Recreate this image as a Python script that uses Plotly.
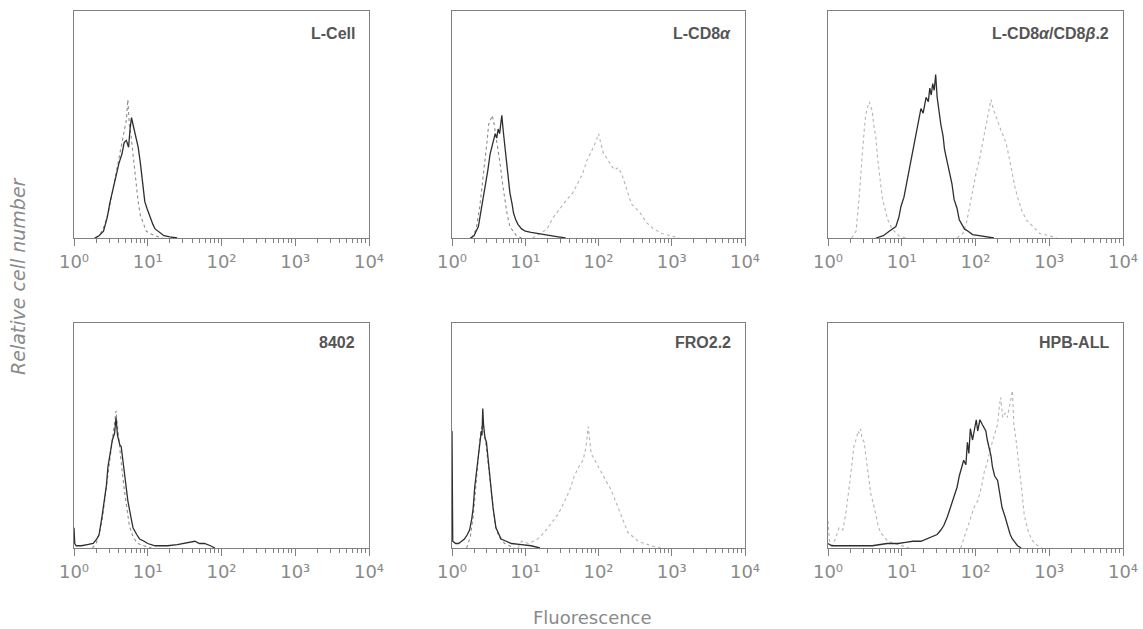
import plotly.graph_objects as go

# ---- Data: log10(fluorescence) positions and relative cell number (% of panel height) ----
panel_titles = ["L-Cell", "L-CD8<i>α</i>", "L-CD8<i>α</i>/CD8<i>β</i>.2", "8402", "FRO2.2", "HPB-ALL"]

# Panel 1: L-Cell
lcell_ctrl_x = [0.30,0.36,0.42,0.47,0.52,0.56,0.60,0.63,0.66,0.69,0.71,0.73,0.75,0.77,0.79,0.81,0.84,0.87,0.90,0.94,0.98,1.03,1.10,1.20]
lcell_ctrl_y = [0,2,6,12,20,27,33,38,44,48,52,61,50,46,40,33,24,16,10,6,3,2,1,0]
lcell_stain_x = [0.28,0.34,0.40,0.45,0.49,0.53,0.58,0.61,0.65,0.68,0.71,0.74,0.76,0.78,0.80,0.83,0.85,0.87,0.90,0.92,0.94,0.96,0.99,1.03,1.07,1.10,1.14,1.17,1.22,1.30,1.40]
lcell_stain_y = [0,1,3,9,16,22,28,33,37,42,43,40,48,53,50,46,42,40,33,28,22,16,13,9,6,4,3,2,1,0.5,0]

# Panel 2: L-CD8a
cd8a_ctrl_x = [0.27,0.33,0.38,0.42,0.45,0.48,0.50,0.53,0.55,0.57,0.59,0.61,0.64,0.66,0.69,0.72,0.75,0.79,0.83,0.88,0.95]
cd8a_ctrl_y = [0,4,14,25,35,43,50,52,54,51,47,43,37,32,24,17,11,5,3,1,0]
cd8a_neg_x = [0.25,0.30,0.36,0.41,0.45,0.49,0.52,0.56,0.59,0.61,0.63,0.65,0.67,0.68,0.70,0.71,0.73,0.75,0.77,0.79,0.82,0.84,0.87,0.90,0.95,1.0,1.08,1.16,1.25,1.35,1.45,1.55]
cd8a_neg_y = [0,1,5,14,23,30,37,42,46,44,48,46,52,54,47,43,38,32,26,20,15,11,8,6,4,3,2.5,2,1.5,1,0.5,0]
cd8a_pos_x = [1.10,1.20,1.30,1.38,1.47,1.57,1.65,1.72,1.78,1.84,1.89,1.93,1.97,2.00,2.03,2.07,2.12,2.17,2.22,2.27,2.32,2.36,2.40,2.45,2.51,2.57,2.65,2.75,2.87,2.98,3.10]
cd8a_pos_y = [0,2,4,9,13,17,20,24,28,34,37,40,43,46,42,37,35,32,30,31,28,24,19,15,13,11,7,4,2,1,0]

# Panel 3: L-CD8a/CD8b.2
cd8ab_ctrl_x = [0.32,0.38,0.42,0.45,0.47,0.49,0.51,0.53,0.55,0.56,0.58,0.60,0.62,0.65,0.67,0.69,0.72,0.74,0.78,0.81,0.87,0.96,1.05]
cd8ab_ctrl_y = [0,3,17,28,39,47,54,57,59,60,58,56,50,44,36,29,22,17,11,8,4,1,0]
cd8ab_mid_x = [0.65,0.75,0.83,0.88,0.92,0.96,0.99,1.03,1.06,1.09,1.12,1.15,1.19,1.22,1.26,1.29,1.33,1.36,1.38,1.40,1.42,1.44,1.46,1.48,1.50,1.53,1.56,1.58,1.62,1.65,1.68,1.71,1.75,1.78,1.82,1.85,1.90,1.96,2.05,2.15,2.25]
cd8ab_mid_y = [0,1,3,4,5,9,14,18,23,27,32,37,44,50,57,55,62,60,66,63,68,65,72,62,56,50,45,39,33,29,24,17,13,8,6,4,3,1.5,1,0.5,0]
cd8ab_pos_x = [1.75,1.83,1.88,1.92,1.96,2.01,2.05,2.08,2.12,2.15,2.18,2.21,2.24,2.28,2.32,2.35,2.39,2.42,2.46,2.49,2.53,2.58,2.63,2.69,2.78,2.87,3.0,3.1]
cd8ab_pos_y = [0,2,7,14,21,29,34,39,45,50,56,61,57,53,50,47,44,41,35,29,23,17,12,8,5,2,1,0]

# Panel 4: 8402
c8402_stain_x = [0.0,0.01,0.03,0.10,0.18,0.26,0.31,0.34,0.38,0.41,0.44,0.46,0.48,0.50,0.52,0.55,0.57,0.59,0.60,0.62,0.64,0.66,0.68,0.71,0.73,0.77,0.80,0.85,0.89,0.95,1.00,1.10,1.27,1.40,1.50,1.58,1.64,1.70,1.77,1.85,1.91]
c8402_stain_y = [9,2,1,1,1.5,2,4,6,14,21,28,36,40,45,48,51,58,50,48,46,45,40,33,27,21,14,9,6,4,3,2,1,1,1.5,2,2.5,3,2,2,1,0]
c8402_ctrl_x = [0.25,0.30,0.34,0.38,0.42,0.46,0.50,0.53,0.55,0.57,0.59,0.61,0.63,0.66,0.69,0.72,0.75,0.80,0.86,0.95,1.05]
c8402_ctrl_y = [0,2,6,12,22,33,44,50,56,61,54,47,40,32,24,16,10,5,2,1,0]

# Panel 5: FRO2.2
fro_neg_x = [0.0,0.005,0.01,0.05,0.09,0.13,0.17,0.21,0.24,0.27,0.29,0.31,0.33,0.35,0.37,0.38,0.40,0.41,0.42,0.43,0.45,0.47,0.49,0.51,0.53,0.56,0.60,0.64,0.67,0.74,0.81,0.95,1.08,1.20]
fro_neg_y = [52,10,3,2,2,3,4,6,8,13,18,27,33,38,46,48,52,50,62,55,49,47,40,33,27,18,9,6,4,3,2,1.5,1,0]
fro_ctrl_x = [0.20,0.25,0.29,0.32,0.35,0.38,0.41,0.43,0.46,0.49,0.52,0.55,0.59,0.64,0.72,0.85]
fro_ctrl_y = [0,5,14,26,38,48,55,54,47,38,28,19,10,5,2,0]
fro_pos_x = [0.90,0.95,1.05,1.17,1.26,1.35,1.45,1.54,1.61,1.67,1.73,1.79,1.83,1.86,1.90,1.95,2.00,2.04,2.10,2.17,2.24,2.31,2.36,2.40,2.47,2.54,2.63,2.72,2.85]
fro_pos_y = [0,3,2,4,7,11,15,21,26,32,36,39,45,54,42,39,36,33,30,26,20,14,10,7,5,3,2,1,0]

# Panel 6: HPB-ALL
hpb_ctrl_x = [0.0,0.02,0.05,0.10,0.15,0.20,0.24,0.26,0.29,0.31,0.33,0.35,0.37,0.39,0.41,0.42,0.44,0.46,0.49,0.51,0.53,0.56,0.58,0.62,0.65,0.68,0.71,0.76,0.81,0.90,1.0,1.1]
hpb_ctrl_y = [12,3,1,4,9,8,15,21,27,33,39,45,47,50,52,51,53,49,47,42,37,30,24,19,14,10,7,5,3,2,1,0]
hpb_mid_x = [0.0,0.05,0.2,0.4,0.6,0.8,0.95,1.05,1.15,1.26,1.33,1.40,1.48,1.53,1.57,1.62,1.66,1.70,1.75,1.78,1.81,1.84,1.87,1.89,1.91,1.93,1.96,1.99,2.01,2.03,2.06,2.09,2.12,2.14,2.16,2.19,2.21,2.23,2.26,2.30,2.33,2.36,2.40,2.43,2.47,2.50,2.54,2.57,2.62]
hpb_mid_y = [2,1,1,1,1,2,2,2.5,3,3,4,5,6,8,10,14,18,22,27,32,35,39,37,47,42,53,48,54,57,52,57,55,53,52,48,44,41,36,32,30,24,18,14,10,6,4,2,1,0]
hpb_pos_x = [1.80,1.88,1.93,1.98,2.03,2.08,2.12,2.16,2.20,2.24,2.27,2.30,2.32,2.34,2.37,2.40,2.43,2.46,2.48,2.50,2.52,2.55,2.57,2.59,2.62,2.64,2.66,2.68,2.72,2.76,2.80,2.90]
hpb_pos_y = [0,8,14,18,21,27,34,38,44,48,52,55,62,67,58,60,58,62,66,70,55,48,41,36,28,21,15,12,7,4,2,0]

decade_ticks = [1, 10, 100, 1000, 10000]
decade_labels = ["10⁰", "10¹", "10²", "10³", "10⁴"]

# ---- Styles ----
SOLID = dict(color="#2e2e2e", width=1.3)
CTRL = dict(color="#8c8c8c", width=1.1, dash="dot")
POS = dict(color="#b4b4b4", width=1.1, dash="dot")
WIDE = "DejaVu Sans, Verdana, sans-serif"
ARIAL = "Liberation Sans, Arial, sans-serif"

panels = [
    [(lcell_ctrl_x, lcell_ctrl_y, CTRL), (lcell_stain_x, lcell_stain_y, SOLID)],
    [(cd8a_ctrl_x, cd8a_ctrl_y, CTRL), (cd8a_pos_x, cd8a_pos_y, POS), (cd8a_neg_x, cd8a_neg_y, SOLID)],
    [(cd8ab_ctrl_x, cd8ab_ctrl_y, POS), (cd8ab_pos_x, cd8ab_pos_y, POS), (cd8ab_mid_x, cd8ab_mid_y, SOLID)],
    [(c8402_ctrl_x, c8402_ctrl_y, CTRL), (c8402_stain_x, c8402_stain_y, SOLID)],
    [(fro_ctrl_x, fro_ctrl_y, CTRL), (fro_pos_x, fro_pos_y, POS), (fro_neg_x, fro_neg_y, SOLID)],
    [(hpb_ctrl_x, hpb_ctrl_y, POS), (hpb_pos_x, hpb_pos_y, POS), (hpb_mid_x, hpb_mid_y, SOLID)],
]

W, H = 1143, 629
x_domains = [(74 / W, 369 / W), (452 / W, 745 / W), (828 / W, 1123 / W)]
y_domains = [(1 - 238 / H, 1 - 11 / H), (1 - 548 / H, 1 - 323 / H)]
title_y = [0.903, 0.915]

minor_vals = [m * 10 ** k for k in range(4) for m in range(2, 10)]

fig = go.Figure()
layout = dict(
    width=W, height=H, margin=dict(l=0, r=0, t=0, b=0, autoexpand=False),
    paper_bgcolor="white", plot_bgcolor="white", showlegend=False,
    font=dict(family=ARIAL, color="#777"),
)
annotations = []
for i, traces in enumerate(panels):
    row, col = divmod(i, 3)
    xa = "x" if i == 0 else f"x{i+1}"
    ya = "y" if i == 0 else f"y{i+1}"
    for xs, ys, style in traces:
        fig.add_trace(go.Scatter(
            x=[10 ** v for v in xs], y=ys, mode="lines", line=style,
            xaxis=xa, yaxis=ya, hoverinfo="skip"))
    key = "" if i == 0 else str(i + 1)
    layout["xaxis" + key] = dict(
        type="log", range=[0, 4], domain=list(x_domains[col]), anchor=ya,
        automargin=False,
        showline=True, linecolor="#808080", linewidth=1, mirror=True,
        showgrid=False, zeroline=False,
        tickmode="array", tickvals=decade_ticks, ticktext=decade_labels,
        ticks="outside", ticklen=7, tickwidth=1, tickcolor="#808080",
        tickfont=dict(size=18, color="#8a8a8a", family=WIDE),
        minor=dict(tickmode="array", tickvals=minor_vals, ticks="outside", ticklen=4,
                   tickwidth=1, tickcolor="#808080", showgrid=False),
        fixedrange=True,
    )
    layout["yaxis" + key] = dict(
        range=[0, 100], domain=list(y_domains[row]), anchor=xa,
        automargin=False,
        showline=True, linecolor="#808080", linewidth=1, mirror=True,
        showgrid=False, zeroline=False, showticklabels=False, ticks="",
        tickmode="array", tickvals=[],
        fixedrange=True,
    )
    annotations.append(dict(
        text="<b>" + panel_titles[i] + "</b>", xref=f"{xa} domain", yref=f"{ya} domain",
        x=0.96, y=title_y[row], xanchor="right", yanchor="middle", showarrow=False,
        font=dict(size=16, color="#555", family=ARIAL),
    ))

annotations.append(dict(
    text="<i>Relative cell number</i>", xref="paper", yref="paper",
    x=18 / W, y=1 - 276 / H, xanchor="center", yanchor="middle",
    textangle=-90, showarrow=False,
    font=dict(size=19, color="#8a8a8a", family=WIDE),
))
annotations.append(dict(
    text="Fluorescence", xref="paper", yref="paper",
    x=592 / W, y=1 - 617 / H, xanchor="center", yanchor="middle", showarrow=False,
    font=dict(size=18, color="#8a8a8a", family=WIDE),
))
layout["annotations"] = annotations
fig.update_layout(**layout)
fig.write_html("out.html", config={"displayModeBar": False},
               post_script="document.body.style.margin='0px';")
